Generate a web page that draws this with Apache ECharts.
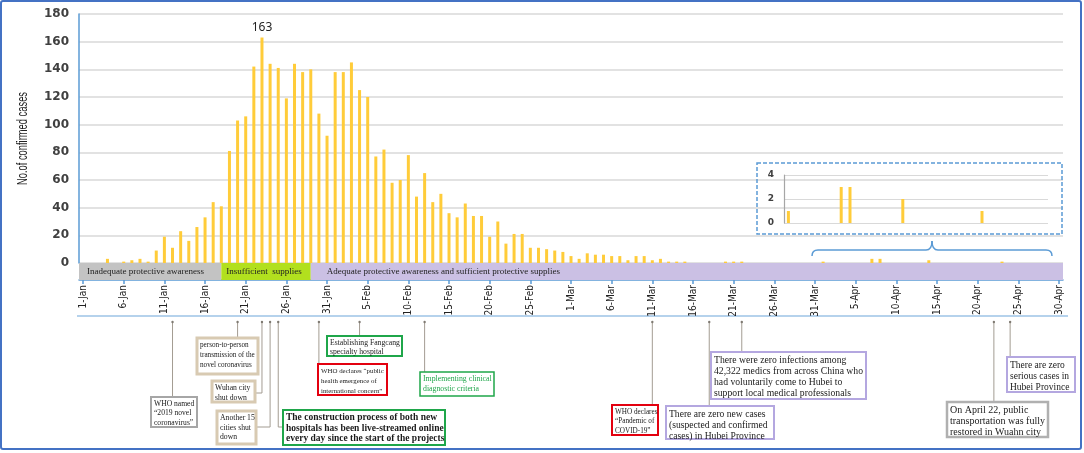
<!DOCTYPE html>
<html>
<head>
<meta charset="utf-8">
<script src="https://cdn.jsdelivr.net/npm/echarts@6/dist/echarts.min.js"></script>
<style>
html,body{margin:0;padding:0;background:#fff;}
#main{width:1084px;height:453px;}
</style>
</head>
<body>
<div id="main"></div>
<script>
//日期
var monthNames = ['Jan','Feb','Mar','Apr'];
var monthDays = [31,29,31,30];
//每日确诊
var janCases = [0,0,0,3,0,1,2,3,1,9,19,11,23,16,26,33,44,41,81,103,106,142,163,144,141,119,144,138,140,108,92];
var febCases = [138,138,145,125,120,77,82,58,60,78,48,65,44,50,36,33,43,34,34,19,30,14,21,21,11,11,10,9,8];
var marCases = [5,3,7,6,6,5,5,2,5,5,2,3,1,1,1,0,0,0,0,1,1,1,0,0,0,0,0,0,0,0,0];
var aprCases = [1,0,0,0,0,0,3,3,0,0,0,0,0,2,0,0,0,0,0,0,0,0,1,0,0,0,0,0,0,0];
//阶段
var phaseNames = ['Inadequate protective awareness','Insufficient  supplies','Adequate protective awareness and sufficient protective supplies'];
var phaseStart = ['1-Jan','18-Jan','29-Jan'];
var phaseEnd = ['18-Jan','29-Jan','30-Apr'];
var phaseColors = ['#C3C3C3','#B2E01E','#CBC0E4'];
var phasePad = [8,5,16];
//放大图
var insetFrom = '1-Apr';
var yName = 'No.of confirmed cases';

var dates = [];
for(var m=0;m<monthNames.length;m++){
    for(var d=1;d<=monthDays[m];d++){
        dates.push(d+'-'+monthNames[m]);
    }
}
var cases = janCases.concat(febCases,marCases,aprCases);
var peak = Math.max.apply(null,cases);
var insetDates = dates.slice(dates.indexOf(insetFrom));
var insetCases = cases.slice(dates.indexOf(insetFrom));

var narrow = "'DejaVu Sans Condensed','Liberation Sans Narrow',sans-serif";
var serif = "'Liberation Serif','Times New Roman',serif";
var barColor = '#FFCC3A';
var blue = '#5B9BD5';

var myChart = echarts.init(document.getElementById('main'));

var option = {
    animation:false,
    grid:[
        {left:79,right:21,top:14,bottom:190,outerBoundsMode:'none'},
        {left:79,right:21,top:263,height:17,outerBoundsMode:'none'},
        {left:784,top:175,width:264,height:48,outerBoundsMode:'none'}
    ],
    xAxis:[
        {gridIndex:0,type:'category',data:dates,axisLine:{show:false},axisTick:{show:false},axisLabel:{show:false}},
        {gridIndex:1,type:'category',data:dates,
            axisLine:{show:true,lineStyle:{color:blue,width:1.5}},
            axisTick:{show:true,interval:4,alignWithLabel:true,length:4,lineStyle:{color:blue,width:1.5}},
            axisLabel:{interval:4,rotate:90,margin:5,fontFamily:narrow,fontSize:10,color:'#222'}},
        {gridIndex:2,type:'category',data:insetDates,
            axisLine:{show:false},axisTick:{show:false},axisLabel:{show:false}}
    ],
    yAxis:[
        {gridIndex:0,type:'value',min:0,max:180,interval:20,
            axisLine:{show:true,lineStyle:{color:blue,width:1.5}},
            axisTick:{show:false},
            axisLabel:{fontFamily:'DejaVu Sans',fontWeight:'bold',fontSize:12,color:'#404040',margin:10},
            splitLine:{lineStyle:{color:'#D9D9D9',width:1.5}}},
        {gridIndex:1,type:'value',min:0,max:1,show:false},
        {gridIndex:2,type:'value',min:0,max:4,interval:2,
            axisLine:{show:true,lineStyle:{color:'#A6A6A6',width:1.2}},
            axisTick:{show:false},
            axisLabel:{fontFamily:'DejaVu Sans',fontWeight:'bold',fontSize:9,color:'#404040',margin:10},
            splitLine:{lineStyle:{color:'#D9D9D9',width:1.2}}}
    ],
    series:[
        {
            type:'bar',xAxisIndex:0,yAxisIndex:0,barWidth:3,
            itemStyle:{color:barColor},
            data:cases.map(function(v){
                return v===peak ? {value:v,label:{show:true,position:'top',distance:4,fontSize:12,color:'#222',fontFamily:'Noto Sans'}} : v;
            })
        },
        {
            type:'custom',xAxisIndex:1,yAxisIndex:1,
            data:phaseNames.map(function(n,i){
                return [dates.indexOf(phaseStart[i]),dates.indexOf(phaseEnd[i]),i];
            }),
            encode:{x:[0,1]},
            renderItem:function(params,api){
                var cs = params.coordSys;
                var i = api.value(2);
                var x0 = i===0 ? cs.x : api.coord([api.value(0),0])[0];
                var x1 = i===phaseNames.length-1 ? cs.x+cs.width : api.coord([api.value(1),0])[0];
                return {type:'group',children:[
                    {type:'rect',shape:{x:x0,y:cs.y,width:x1-x0,height:cs.height},style:{fill:phaseColors[i]}},
                    {type:'text',style:{text:phaseNames[i],x:x0+phasePad[i],y:cs.y+cs.height/2,
                        verticalAlign:'middle',font:'9px '+serif,fill:'#222'}}
                ]};
            }
        },
        {
            type:'bar',xAxisIndex:2,yAxisIndex:2,barWidth:3,
            itemStyle:{color:barColor},
            data:insetCases
        }
    ]
};
myChart.setOption(option);

//注释
var notes = [
    {date:'12-Jan',box:[151,397,46,30],border:'#A6A6A6',bw:2,font:7.6,lh:9.3,lines:['WHO named','\u201c2019 novel','coronavirus\u201d']},
    {date:'20-Jan',box:[197,338,61,36],border:'#D8CAB2',bw:3,font:7.2,lh:9.7,lines:['person-to-person','transmission of the','novel coronavirus']},
    {date:'23-Jan',box:[212,381,43,21],border:'#D8CAB2',bw:3,font:7.7,lh:9.5,lines:['Wuhan city','shut down'],elbow:393},
    {date:'24-Jan',box:[217,411,39,33],border:'#D8CAB2',bw:3,font:7.7,lh:9.5,lines:['Another 15','cities shut','down'],elbow:427},
    {date:'25-Jan',box:[283,410,162,35],border:'#1FA64A',bw:2,font:9.5,lh:10.5,bold:true,lines:['The construction process of both new','hospitals has been live-streamed online','every day since the start of the projects'],elbow:427},
    {date:'30-Jan',box:[318,364,69,31],border:'#E3000F',bw:2,font:6.9,lh:9.7,lines:['WHO declares \u201cpublic','health emergence of','international concern\u201d']},
    {date:'4-Feb',box:[327,336,75,20],border:'#1FA64A',bw:2,font:7.7,lh:9.3,lines:['Establishing Fangcang','specialty hospital']},
    {date:'12-Feb',box:[420,372,74,24],border:'#1FA64A',bw:1.5,font:7.8,lh:9.5,color:'#1FA64A',lines:['Implementing clinical','diagnostic criteria']},
    {date:'11-Mar',box:[612,405,46,30],border:'#E3000F',bw:2,font:7.2,lh:9.3,lines:['WHO declares','\u201cPandemic of','COVID-19\u201d']},
    {date:'18-Mar',box:[666,406,108,33],border:'#B4A7E0',bw:2,font:9.6,lh:11.2,lines:['There are zero new cases','(suspected and confirmed','cases) in Hubei Province']},
    {date:'22-Mar',box:[711,352,155,47],border:'#B4A7E0',bw:2,font:9.7,lh:11,lines:['There were zero infections among','42,322 medics from across China who','had voluntarily come to Hubei to','support local medical professionals']},
    {date:'22-Apr',box:[947,402,101,35],border:'#B0B0B0',bw:2.5,font:10,lh:11.2,lines:['On April 22, public','transportation was fully','restored in Wuahn city']},
    {date:'24-Apr',box:[1007,357,68,35],border:'#B4A7E0',bw:2,font:9.5,lh:11,lines:['There are zero','serious cases in','Hubei Province']}
];

var graphics = [];
var leaderTop = 322;
var leaderColor = '#A39C92';
notes.forEach(function(n){
    var x = myChart.convertToPixel({xAxisIndex:1},n.date);
    var b = n.box;
    var pts;
    if(n.elbow){
        var ex = x > b[0]+b[2] ? b[0]+b[2] : b[0];
        pts = [[x,leaderTop],[x,n.elbow],[ex,n.elbow]];
    }else{
        pts = [[x,leaderTop],[x,b[1]]];
    }
    graphics.push({type:'polyline',shape:{points:pts},style:{stroke:leaderColor,lineWidth:1,fill:null},z:10});
    graphics.push({type:'circle',shape:{cx:x,cy:leaderTop,r:1.2},style:{fill:'#7F7A72'},z:11});
    graphics.push({type:'rect',shape:{x:b[0],y:b[1],width:b[2],height:b[3]},
        style:{fill:'#fff',stroke:n.border,lineWidth:n.bw},z:12});
    graphics.push({type:'text',x:b[0]+3,y:b[1]+2.5,z:13,
        style:{text:n.lines.join('\n'),font:(n.bold?'bold ':'')+n.font+'px '+serif,
            lineHeight:n.lh,fill:n.color||'#1a1a1a',verticalAlign:'top'}});
});

//纵轴标题(压窄字体)
var nameFont = "15px 'Liberation Sans'";
var ctx = document.createElement('canvas').getContext('2d');
ctx.font = nameFont;
var nameScale = 93/ctx.measureText(yName).width;
graphics.push({type:'text',x:22.5,y:138.5,rotation:Math.PI/2,scaleX:nameScale,
    style:{text:yName,font:nameFont,fill:'#222',align:'center',verticalAlign:'middle'}});

//放大框和括号
graphics.push({type:'rect',shape:{x:757,y:163,width:305,height:71},
    style:{fill:null,stroke:blue,lineWidth:1.5,lineDash:[4,2]},z:5});
var brace = {stroke:blue,lineWidth:1.5,fill:null};
graphics.push({type:'bezierCurve',shape:{x1:812,y1:256,x2:818,y2:250,cpx1:812,cpy1:250},style:brace});
graphics.push({type:'line',shape:{x1:818,y1:250,x2:926,y2:250},style:brace});
graphics.push({type:'bezierCurve',shape:{x1:926,y1:250,x2:932,y2:241,cpx1:932,cpy1:250},style:brace});
graphics.push({type:'bezierCurve',shape:{x1:932,y1:241,x2:938,y2:250,cpx1:932,cpy1:250},style:brace});
graphics.push({type:'line',shape:{x1:938,y1:250,x2:1046,y2:250},style:brace});
graphics.push({type:'bezierCurve',shape:{x1:1046,y1:250,x2:1052,y2:256,cpx1:1052,cpy1:250},style:brace});
//标签下横线
graphics.push({type:'line',shape:{x1:77,y1:316,x2:1068,y2:316},style:{stroke:'#9DC3E6',lineWidth:1.5}});
//外框
graphics.push({type:'rect',shape:{x:1,y:1,width:1080,height:448,r:2},
    style:{fill:null,stroke:'#4472C4',lineWidth:2}});

myChart.setOption({graphic:graphics});
</script>
</body>
</html>
